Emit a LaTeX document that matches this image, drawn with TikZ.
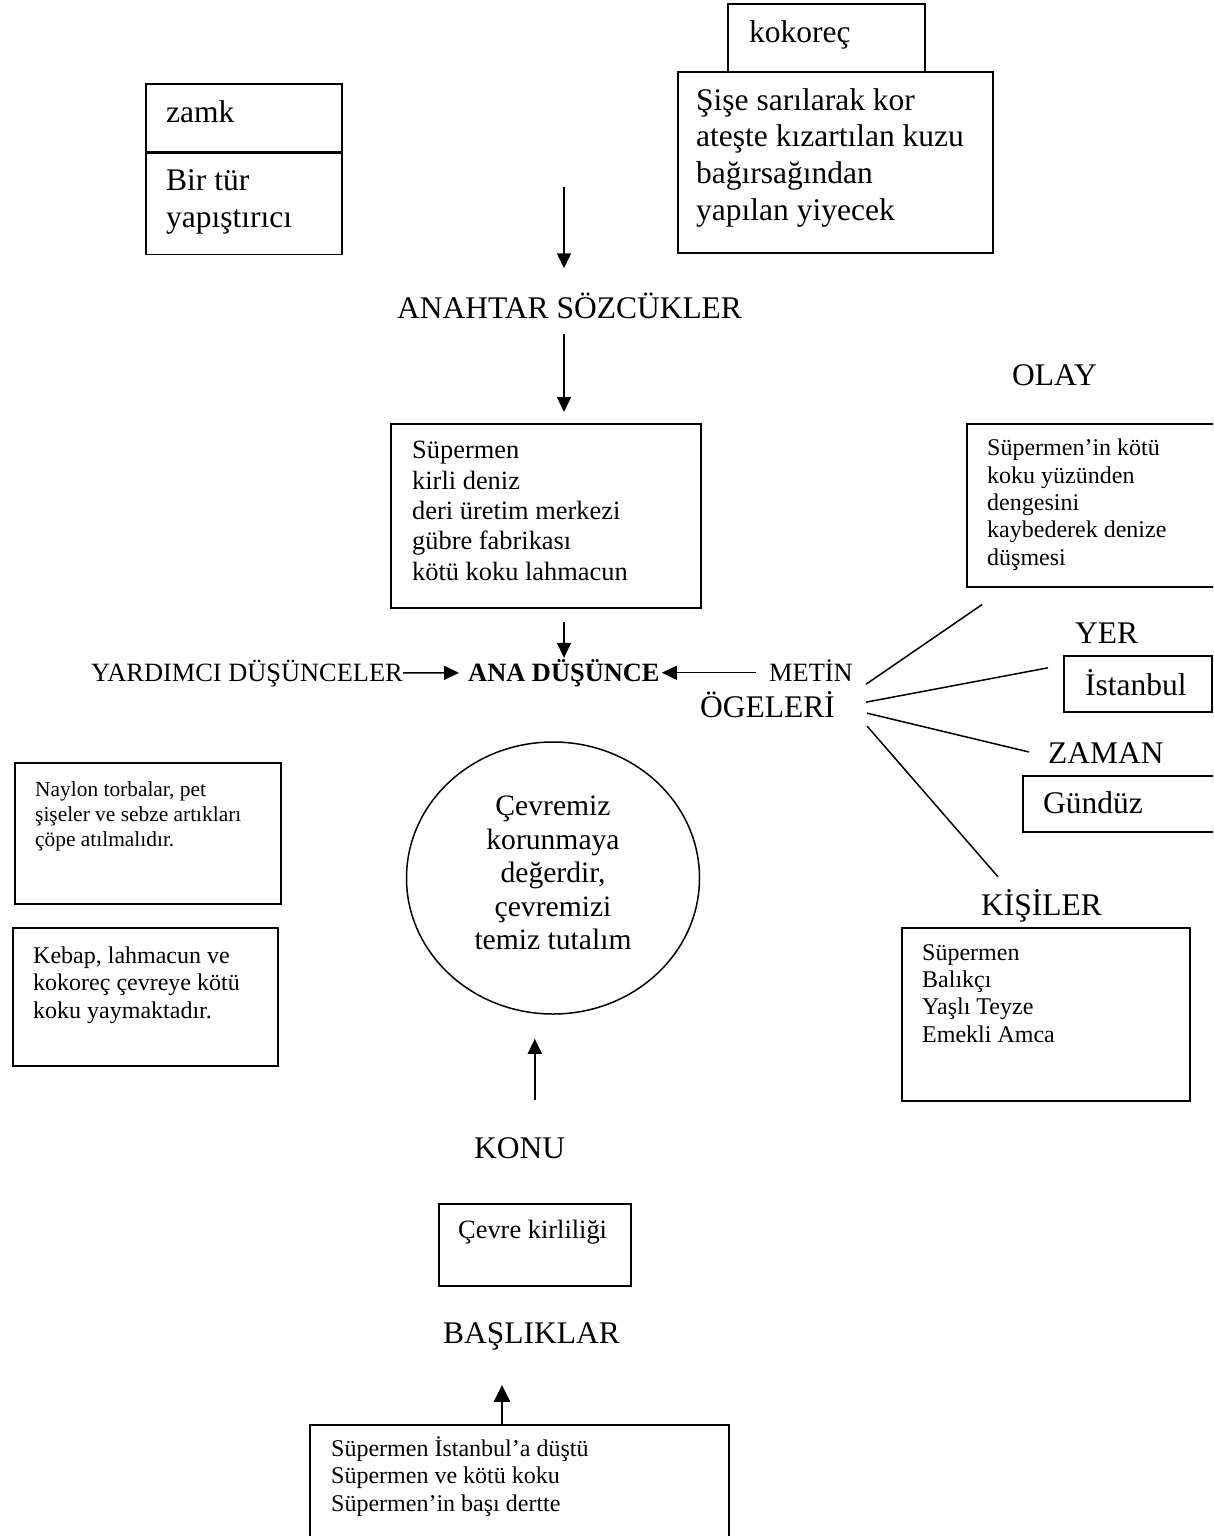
\documentclass[tikz,border=0pt]{standalone}
\usepackage{fontspec}
\setmainfont{Liberation Serif}
\usetikzlibrary{arrows.meta,shapes.geometric,calc}

\begin{document}
\begin{tikzpicture}[x=1pt, y=-1pt,
    % Font sizes
    f14/.style={font=\fontsize{31.5}{36.6}\selectfont},
    f13/.style={font=\fontsize{29.6}{33.6}\selectfont},
    f12/.style={font=\fontsize{26.4}{30.3}\selectfont},
    f12b/.style={font=\fontsize{26.4}{30.3}\selectfont\bfseries},
    f11/.style={font=\fontsize{24}{27.3}\selectfont},
    f10/.style={font=\fontsize{21.4}{24.6}\selectfont},
    % Boxes, texts and connectors
    box/.style={rectangle, draw=black, line width=1.6, inner sep=0, anchor=north west},
    txt/.style={inner sep=0, anchor=base west, align=left},
    arr/.style={-{Triangle[length=15pt, width=14pt]}, line width=1.5},
    bigarr/.style={-{Triangle[length=17pt, width=16pt]}, line width=2.6},
    ln/.style={line width=1.5}
]
\useasboundingbox (0,0) rectangle (1213,1536);
\clip (0,0) rectangle (1213,1536);

% zamk
\node[box, minimum width=196pt, minimum height=68pt] (zamkbox) at (145,83) {};
\node[box, minimum width=196pt, minimum height=101pt] (zamkdef) at (zamkbox.south west) {};
\node[txt, f14] (zamk) at (166,123) {zamk};
\node[txt, f14] (zamktxt) at (166,227) {Bir tür\\yapıştırıcı};

% kokoreç
\node[box, minimum width=197pt, minimum height=68pt] (kokbox) at (727,3) {};
\node[box, minimum width=315pt, minimum height=181pt] (kokdef) at (677,71) {};
\node[txt, f14] (kok) at (749,43) {kokoreç};
\node[txt, f14] (koktxt) at (696,220) {Şişe sarılarak kor\\ateşte kızartılan kuzu\\bağırsağından\\yapılan yiyecek};

% Anahtar sözcükler
\coordinate (axis) at (564,0);
\coordinate (a1) at (564,187);
\node[txt, f14] (anahtar) at (397,318) {ANAHTAR SÖZCÜKLER};
\node[box, minimum width=310pt, minimum height=184pt] (kwbox) at (390,423) {};
\node[txt, f12] (kwtxt) at (412,580) {Süpermen\\kirli deniz\\deri üretim merkezi\\gübre fabrikası\\kötü koku lahmacun};

\draw[arr, shorten >=24pt] (a1) -- (a1 |- anahtar.north);
\draw[arr, shorten <=15pt, shorten >=11pt] (anahtar.south -| axis) -- (kwbox.north -| axis);

% Middle row
\node[txt, f12] (yard) at (91,681) {YARDIMCI DÜŞÜNCELER};
\node[txt, f12b] (ana) at (468,681) {ANA DÜŞÜNCE};
\node[txt, f12] (metin) at (769,681) {METİN};
\node[txt, f14] (ogeleri) at (700,717) {ÖGELERİ};

\draw[arr, shorten <=13pt, shorten >=1pt] (kwbox.south -| axis) -- (ana.north -| axis);
\draw[arr, shorten >=9pt] (yard) -- (ana);
\draw[arr, shorten <=13pt, shorten >=2pt] (metin.west |- ana.east) -- (ana.east);

% Olay
\node[txt, f14] (olay) at (1012,385) {OLAY};
\node[box, minimum width=270pt, minimum height=163pt] (olaybox) at (966,423) {};
\node[txt, f11] (olaytxt) at (987,565) {Süpermen’in kötü\\koku yüzünden\\dengesini\\kaybederek denize\\düşmesi};

% Yer
\node[txt, f14] (yer) at (1075,643) {YER};
\node[box, minimum width=148pt, minimum height=56pt] (yerbox) at (1063,655) {};
\node[txt, f14] (yertxt) at (1085,695) {İstanbul};

% Zaman
\node[txt, f14] (zaman) at (1048,763) {ZAMAN};
\node[box, minimum width=220pt, minimum height=56pt] (zamanbox) at (1022,775) {};
\node[txt, f14] (zamantxt) at (1043,813) {Gündüz};

% Kişiler
\node[txt, f14] (kisiler) at (981,915) {KİŞİLER};
\node[box, minimum width=288pt, minimum height=173pt] (kisibox) at (901,927) {};
\node[txt, f11] (kisitxt) at (922,1042) {Süpermen\\Balıkçı\\Yaşlı Teyze\\Emekli Amca};

% Lines from metin ögeleri
\draw[ln] ($(ogeleri.east)+(31,-20)$) -- ($(olaybox.south west)+(16,17)$);
\draw[ln] ($(ogeleri.east)+(31,-2)$) -- ($(yerbox.west)+(-15,-16)$);
\draw[ln] ($(ogeleri.east)+(32,9)$) -- ($(zamanbox.north west)+(7,-23)$);
\draw[ln] ($(ogeleri.east)+(32,22)$) -- ($(kisiler.north west)+(17,-12)$);

% Yardımcı düşünceler
\node[box, minimum width=266pt, minimum height=141pt] (naybox) at (14,762) {};
\node[txt, f10] (naytxt) at (35,846) {Naylon torbalar, pet\\şişeler ve sebze artıkları\\çöpe atılmalıdır.};
\node[box, minimum width=265pt, minimum height=138pt] (kebbox) at (12,927) {};
\node[txt, f11] (kebtxt) at (33,1018) {Kebap, lahmacun ve\\kokoreç çevreye kötü\\koku yaymaktadır.};

% Ana düşünce circle
\node[draw, ellipse, line width=1.5, minimum width=293pt, minimum height=272pt, f13, align=center, inner sep=0] (circ) at (553,878) {Çevremiz\\korunmaya\\değerdir,\\çevremizi\\temiz tutalım\strut};

% Konu
\node[txt, f14] (konu) at (474,1158) {KONU};
\node[box, minimum width=192pt, minimum height=82pt] (konubox) at (438,1203) {};
\node[txt, f12] (konutxt) at (458,1238) {Çevre kirliliği};
\draw[arr, shorten <=37pt, shorten >=24pt] (konu.north -| konubox.north) -- (circ.south -| konubox.north);

% Başlıklar
\coordinate (bx) at (502,0);
\node[txt, f14] (baslik) at (443,1343) {BAŞLIKLAR};
\node[box, minimum width=419pt, minimum height=150pt] (baslikbox) at (309,1424) {};
\node[txt, f11] (basliktxt) at (331,1511) {Süpermen İstanbul’a düştü\\Süpermen ve kötü koku\\Süpermen’in başı dertte};
\draw[bigarr, shorten >=35pt] (baslikbox.north -| bx) -- (baslik.south -| bx);

\end{tikzpicture}
\end{document}
